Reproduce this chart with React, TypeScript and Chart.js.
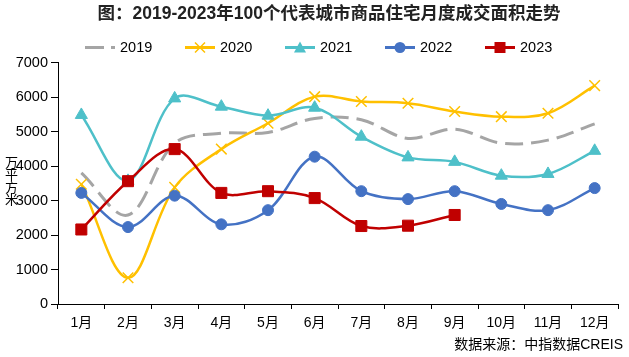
import React, { useEffect, useRef } from "react";
import { Chart, registerables } from "chart.js";

Chart.register(...registerables);

const FONT = "'Liberation Sans', Arial, 'Noto Sans CJK SC', sans-serif";

const TITLE = "图：2019-2023年100个代表城市商品住宅月度成交面积走势";
const Y_TITLE = ["万", "平", "方", "米"];
const SOURCE = "数据来源：中指数据CREIS";

const months = ["1月", "2月", "3月", "4月", "5月", "6月", "7月", "8月", "9月", "10月", "11月", "12月"];
const seriesNames = ["2019", "2020", "2021", "2022", "2023"];

const v2019 = [3800, 2580, 4660, 4950, 4970, 5380, 5340, 4800, 5070, 4660, 4750, 5220];
const v2020 = [3470, 760, 3380, 4490, 5240, 6010, 5870, 5820, 5580, 5430, 5530, 6330];
const v2021 = [5480, 3570, 5960, 5720, 5460, 5690, 4850, 4250, 4120, 3720, 3770, 4440];
const v2022 = [3220, 2230, 3140, 2310, 2720, 4270, 3270, 3040, 3270, 2900, 2720, 3360];
const v2023 = [2160, 3560, 4490, 3220, 3270, 3070, 2260, 2270, 2580];

const yTicks = [0, 1000, 2000, 3000, 4000, 5000, 6000, 7000];

const colors = ["#A5A5A5", "#FFC000", "#4EC0C9", "#4472C4", "#C00000"];
const styles = ["none", "crossRot", "triangle", "circle", "rect"];

function drawMarker(ctx: CanvasRenderingContext2D, style: string, x: number, y: number, color: string) {
  ctx.save();
  ctx.fillStyle = color;
  ctx.strokeStyle = color;
  if (style === "crossRot") {
    const s = 5;
    ctx.lineWidth = 1.5;
    ctx.beginPath();
    ctx.moveTo(x - s, y - s);
    ctx.lineTo(x + s, y + s);
    ctx.moveTo(x + s, y - s);
    ctx.lineTo(x - s, y + s);
    ctx.stroke();
  } else if (style === "triangle") {
    ctx.beginPath();
    ctx.moveTo(x, y - 6);
    ctx.lineTo(x + 6, y + 5);
    ctx.lineTo(x - 6, y + 5);
    ctx.closePath();
    ctx.fill();
  } else if (style === "circle") {
    ctx.beginPath();
    ctx.arc(x, y, 5.5, 0, Math.PI * 2);
    ctx.fill();
  } else if (style === "rect") {
    ctx.fillRect(x - 5.5, y - 5.5, 11, 11);
  }
  ctx.restore();
}

const decorPlugin = {
  id: "decor",
  afterDraw(chart: any) {
    const ctx: CanvasRenderingContext2D = chart.ctx;
    ctx.save();
    // title
    ctx.fillStyle = "#222";
    ctx.font = `bold 17.5px ${FONT}`;
    ctx.textAlign = "center";
    ctx.textBaseline = "middle";
    ctx.fillText(TITLE, 329, 14);

    // legend
    const legendY = 47.5;
    seriesNames.forEach((name, i) => {
      const mx = 100 + i * 100;
      ctx.save();
      ctx.strokeStyle = colors[i];
      ctx.lineWidth = 3;
      if (i === 0) ctx.setLineDash([19, 7]);
      ctx.beginPath();
      ctx.moveTo(mx - 15, legendY);
      ctx.lineTo(mx + 15, legendY);
      ctx.stroke();
      ctx.restore();
      drawMarker(ctx, styles[i], mx, legendY, colors[i]);
      ctx.fillStyle = "#000";
      ctx.font = `14.5px ${FONT}`;
      ctx.textAlign = "left";
      ctx.textBaseline = "middle";
      ctx.fillText(name, mx + 20, legendY + 0.5);
    });

    // y axis title (vertical stacked)
    ctx.fillStyle = "#000";
    ctx.font = `13px ${FONT}`;
    ctx.textAlign = "center";
    ctx.textBaseline = "middle";
    const ys = [163, 175, 188, 200];
    Y_TITLE.forEach((ch, i) => ctx.fillText(ch, 11.5, ys[i]));

    // source
    ctx.font = `14px ${FONT}`;
    ctx.textAlign = "right";
    ctx.fillText(SOURCE, 623, 345.5);
    ctx.restore();
  },
};

export default function App() {
  const ref = useRef<HTMLCanvasElement>(null);

  useEffect(() => {
    if (!ref.current) return;
    const mk = (i: number, data: number[], extra: any) => ({
      label: seriesNames[i],
      data,
      borderColor: colors[i],
      backgroundColor: colors[i],
      pointBackgroundColor: colors[i],
      pointBorderColor: colors[i],
      borderWidth: 2.5,
      tension: 0.35,
      order: 5 - i,
      ...extra,
    });
    const chart = new Chart(ref.current, {
      type: "line",
      data: {
        labels: months,
        datasets: [
          mk(0, v2019, { pointRadius: 0, borderWidth: 3, borderDash: [18, 8] }),
          mk(1, v2020, { pointStyle: "crossRot", pointRadius: 7.5, pointBorderWidth: 1.5 }),
          mk(2, v2021, { pointStyle: "triangle", pointRadius: 7, pointBorderWidth: 1 }),
          mk(3, v2022, { pointStyle: "circle", pointRadius: 5.5, pointBorderWidth: 1 }),
          mk(4, v2023, { pointStyle: "rect", pointRadius: 7.8, pointBorderWidth: 1 }),
        ] as any,
      },
      options: {
        responsive: false,
        animation: false,
        events: [],
        layout: { padding: { left: 0, right: 11, top: 62.5, bottom: 0 } },
        plugins: {
          legend: { display: false },
          title: { display: false },
          tooltip: { enabled: false },
        },
        scales: {
          x: {
            offset: true,
            grid: {
              display: true,
              drawOnChartArea: false,
              offset: true,
              tickLength: 5,
              color: "#000",
              lineWidth: 1,
            },
            border: { display: true, color: "#000", width: 1 },
            ticks: {
              color: "#000",
              font: { size: 14, family: FONT },
              padding: 6,
              maxRotation: 0,
              autoSkip: false,
            },
            afterFit: (s: any) => {
              s.height = 53;
            },
          },
          y: {
            min: 0,
            max: 7000,
            afterBuildTicks: (s: any) => {
              s.ticks = yTicks.map((v) => ({ value: v }));
            },
            grid: {
              display: true,
              drawOnChartArea: false,
              tickLength: 7,
              color: "#000",
              lineWidth: 1,
            },
            border: { display: true, color: "#000", width: 1 },
            ticks: {
              color: "#000",
              font: { size: 14.5, family: FONT },
              padding: 3,
              callback: (v: any) => String(v),
            },
            afterFit: (s: any) => {
              s.width = 58;
            },
          },
        },
      } as any,
      plugins: [decorPlugin],
    });
    return () => chart.destroy();
  }, []);

  return (
    <div style={{ position: "fixed", left: 0, top: 0, width: 629, height: 357, background: "#fff" }}>
      <canvas ref={ref} width={629} height={357} style={{ width: 629, height: 357, display: "block" }} />
    </div>
  );
}
